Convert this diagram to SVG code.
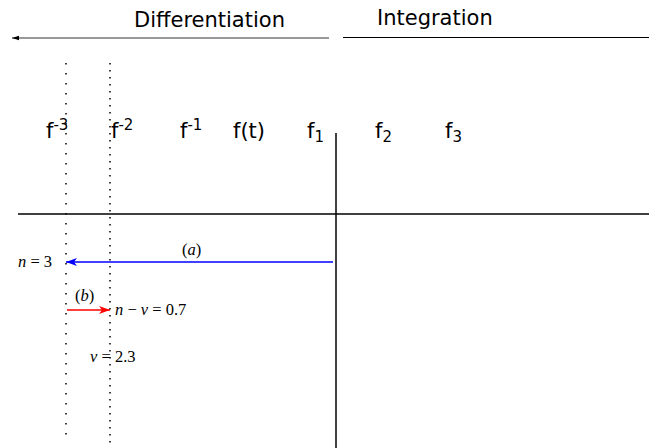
<svg xmlns="http://www.w3.org/2000/svg" width="649" height="448" viewBox="0 0 649 448">
<style>
.t{font-family:"DejaVu Sans",sans-serif;font-size:21px;fill:#000}
.s{font-size:15px}
.m{font-family:"Liberation Serif",serif;font-size:16.5px;fill:#000}
.i{font-style:italic}
</style>
<defs>
<marker id="ak" markerWidth="8" markerHeight="6" refX="7" refY="3" orient="auto" markerUnits="userSpaceOnUse"><path d="M0,0.8 L7,3 L0,5.2 z" fill="#000"/></marker>
<marker id="ab" markerWidth="12" markerHeight="8" refX="11" refY="4" orient="auto" markerUnits="userSpaceOnUse"><path d="M0,0 L11,4 L0,8 L3,4 z" fill="#00f"/></marker>
<marker id="ar" markerWidth="12" markerHeight="8" refX="11" refY="4" orient="auto" markerUnits="userSpaceOnUse"><path d="M0,0 L11,4 L0,8 L3,4 z" fill="#f00"/></marker>
</defs>
<rect width="649" height="448" fill="#fff"/>
<g id="connectors">
<line x1="329" y1="38" x2="12" y2="38" stroke="#333" stroke-width="1.2" marker-end="url(#ak)"/>
<line x1="343" y1="37.5" x2="649" y2="37.5" stroke="#000" stroke-width="1.2"/>
<line x1="18" y1="214" x2="649" y2="214" stroke="#000" stroke-width="1.3"/>
<line x1="336" y1="133" x2="336" y2="448" stroke="#000" stroke-width="1.5"/>
<line x1="66" y1="63" x2="66" y2="442" stroke="#000" stroke-width="1.5" stroke-dasharray="1.5 8.5"/>
<line x1="110" y1="63" x2="110" y2="445" stroke="#000" stroke-width="1.5" stroke-dasharray="1.5 5.5"/>
<line x1="333" y1="262" x2="66" y2="262" stroke="#00f" stroke-width="1.5" marker-end="url(#ab)"/>
<line x1="67" y1="310" x2="110" y2="310" stroke="#f00" stroke-width="1.5" marker-end="url(#ar)"/>
</g>
<g id="differentiation"><text class="t" x="134" y="27">Differentiation</text></g>
<g id="integration"><text class="t" x="377" y="25">Integration</text></g>
<g id="fm3"><text class="t" x="46" y="138">f<tspan class="s" dy="-8">-3</tspan></text></g>
<g id="fm2"><text class="t" x="111" y="138">f<tspan class="s" dy="-8">-2</tspan></text></g>
<g id="fm1"><text class="t" x="180" y="138">f<tspan class="s" dy="-8">-1</tspan></text></g>
<g id="ft"><text class="t" x="233" y="138">f(t)</text></g>
<g id="f1"><text class="t" x="307" y="138">f<tspan class="s" dy="4">1</tspan></text></g>
<g id="f2"><text class="t" x="375" y="138">f<tspan class="s" dy="4">2</tspan></text></g>
<g id="f3"><text class="t" x="445" y="138">f<tspan class="s" dy="4">3</tspan></text></g>
<g id="la"><text class="m" x="182" y="255">(<tspan class="i">a</tspan>)</text></g>
<g id="n3"><text class="m" x="18" y="267"><tspan class="i">n</tspan> = 3</text></g>
<g id="lb"><text class="m" x="75" y="301">(<tspan class="i">b</tspan>)</text></g>
<g id="nnu"><text class="m" x="115" y="315"><tspan class="i">n</tspan> − <tspan class="i">ν</tspan> = 0.7</text></g>
<g id="nu"><text class="m" x="90" y="362"><tspan class="i">ν</tspan> = 2.3</text></g>
</svg>
